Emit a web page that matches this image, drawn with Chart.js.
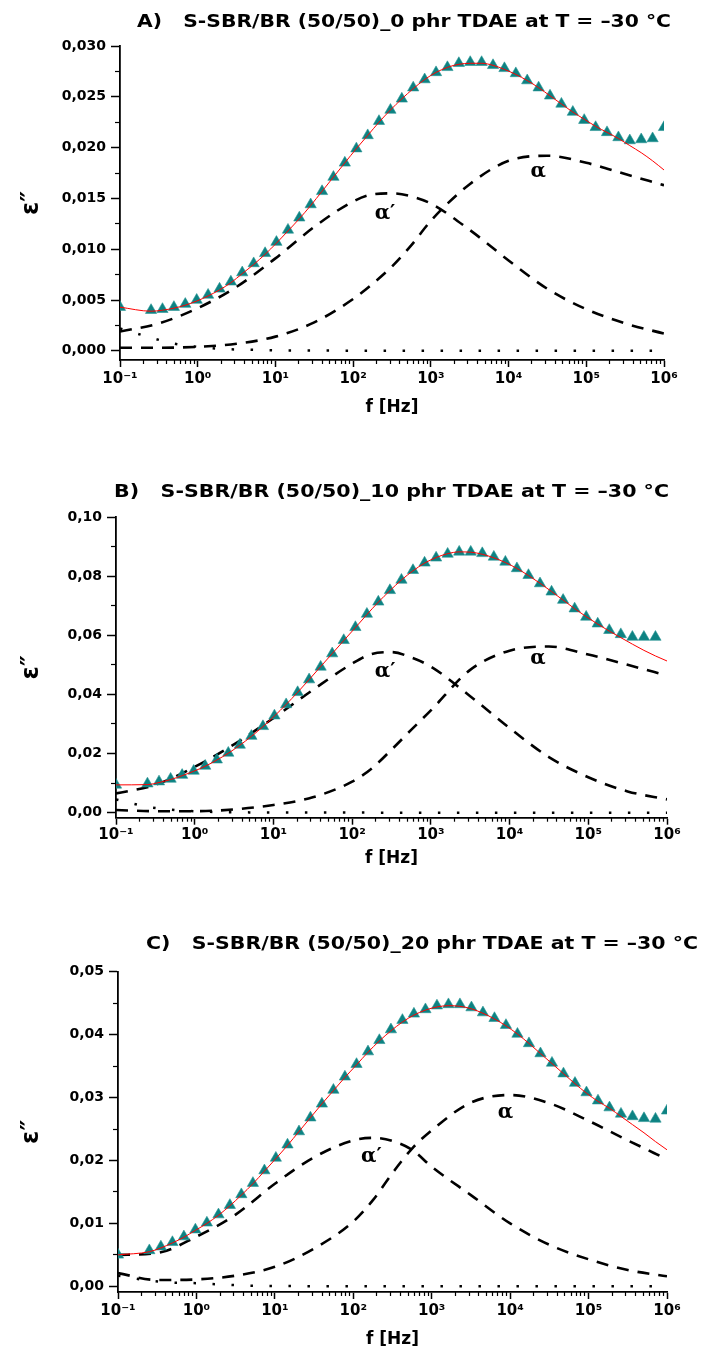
<!DOCTYPE html>
<html>
<head>
<meta charset="utf-8">
<script src="https://cdn.jsdelivr.net/npm/chart.js@4.4.0/dist/chart.umd.min.js"></script>
<style>
  html, body { margin: 0; padding: 0; background: #fff; }
  body { width: 704px; height: 1351px; position: relative; overflow: hidden; }
  canvas { position: absolute; left: 0; }
</style>
</head>
<body>
<canvas id="chartA" width="704" height="430" style="top:0px;width:704px;height:430px"></canvas>
<canvas id="chartB" width="704" height="400" style="top:470px;width:704px;height:400px"></canvas>
<canvas id="chartC" width="704" height="431" style="top:920px;width:704px;height:431px"></canvas>
<script>
// measured frequencies [Hz]
const freq = [0.1, 0.251, 0.352, 0.494, 0.692, 0.970, 1.36, 1.91, 2.67, 3.74, 5.25, 7.36, 10.3, 14.5, 20.3, 28.4, 39.8, 55.8, 78.2, 110, 154, 215, 302, 423, 593, 832, 1166, 1634, 2291, 3211, 4500, 6310, 8845, 12397, 17378, 24360, 34145, 47863, 67092, 94044, 131826, 184785, 259020, 363078, 508940, 713404, 1000000];
// frequencies of the fitted relaxation components
const compFreq = [0.1, 0.316, 1, 3.16, 10, 31.6, 100, 178, 316, 562, 1000, 3160, 10000, 31600, 100000, 316000, 1000000];
const condFreq = [0.1, 0.25, 0.5, 1, 2, 5, 10, 100, 1000, 10000, 100000, 1000000];

// A) 0 phr TDAE
const epsA = [0.0043, 0.0040, 0.0041, 0.0043, 0.0046, 0.0050, 0.0055, 0.0061, 0.0068, 0.0077, 0.0086, 0.0096, 0.0107, 0.0119, 0.0131, 0.0144, 0.0157, 0.0171, 0.0185, 0.0199, 0.0212, 0.0226, 0.0237, 0.0248, 0.0259, 0.0267, 0.0274, 0.0279, 0.0283, 0.0284, 0.0284, 0.0281, 0.0278, 0.0273, 0.0266, 0.0259, 0.0251, 0.0243, 0.0235, 0.0227, 0.0220, 0.0215, 0.0210, 0.0207, 0.0208, 0.0209, 0.0220];
const fitA = [0.0043, 0.0039, 0.0040, 0.0042, 0.0045, 0.0049, 0.0054, 0.0060, 0.0067, 0.0076, 0.0085, 0.0095, 0.0106, 0.0118, 0.0130, 0.0143, 0.0157, 0.0171, 0.0185, 0.0199, 0.0212, 0.0225, 0.0237, 0.0248, 0.0258, 0.0267, 0.0274, 0.0279, 0.0282, 0.0283, 0.0283, 0.0281, 0.0277, 0.0272, 0.0266, 0.0259, 0.0251, 0.0243, 0.0235, 0.0228, 0.0221, 0.0215, 0.0209, 0.0202, 0.0195, 0.0187, 0.0178];
const alphaPrimeA = [0.0019, 0.0027, 0.0042, 0.0063, 0.0091, 0.0122, 0.0147, 0.0154, 0.0155, 0.0152, 0.0145, 0.0119, 0.0089, 0.0061, 0.0041, 0.0027, 0.0017];
const alphaA = [0.0003, 0.0003, 0.0004, 0.0007, 0.0014, 0.0028, 0.0051, 0.0066, 0.0083, 0.0104, 0.0128, 0.0164, 0.0187, 0.0192, 0.0185, 0.0174, 0.0163];
const condA = [0.0022, 0.0013, 0.0007, 0.0004, 0.0002, 0.0001, 0.00005, 0.00002, 0.00001, 0, 0, 0];

// B) 10 phr TDAE
const epsB = [0.0094, 0.0098, 0.0105, 0.0114, 0.0127, 0.0141, 0.0158, 0.0179, 0.0202, 0.0229, 0.0259, 0.0292, 0.0328, 0.0366, 0.0407, 0.0450, 0.0493, 0.0538, 0.0583, 0.0627, 0.0672, 0.0713, 0.0752, 0.0787, 0.0820, 0.0845, 0.0862, 0.0875, 0.0882, 0.0882, 0.0877, 0.0865, 0.0848, 0.0826, 0.0803, 0.0775, 0.0747, 0.0719, 0.0690, 0.0662, 0.0639, 0.0617, 0.0603, 0.0594, 0.0594, 0.0594, null];
const fitB = [0.0094, 0.0095, 0.0102, 0.0112, 0.0125, 0.0140, 0.0157, 0.0178, 0.0201, 0.0228, 0.0258, 0.0291, 0.0327, 0.0366, 0.0407, 0.0450, 0.0494, 0.0538, 0.0582, 0.0626, 0.0670, 0.0712, 0.0751, 0.0787, 0.0818, 0.0844, 0.0863, 0.0876, 0.0882, 0.0881, 0.0874, 0.0862, 0.0846, 0.0826, 0.0802, 0.0776, 0.0748, 0.0719, 0.0690, 0.0663, 0.0638, 0.0614, 0.0592, 0.0570, 0.0549, 0.0530, 0.0513];
const alphaPrimeB = [0.0065, 0.0094, 0.0155, 0.0231, 0.0320, 0.0415, 0.0504, 0.0537, 0.0543, 0.0525, 0.0494, 0.0394, 0.0286, 0.0188, 0.0120, 0.0072, 0.0045];
const alphaB = [0.0009, 0.0005, 0.0005, 0.0011, 0.0026, 0.0052, 0.0105, 0.0150, 0.0213, 0.0280, 0.0346, 0.0483, 0.0548, 0.0562, 0.0535, 0.0500, 0.0464];
const condB = [0.0045, 0.0020, 0.0010, 0.0005, 0.0002, 0.0001, 0.00005, 0.00002, 0.00001, 0, 0, 0];

// C) 20 phr TDAE
const epsC = [0.0050, 0.0057, 0.0063, 0.0070, 0.0079, 0.0090, 0.0101, 0.0114, 0.0129, 0.0146, 0.0164, 0.0184, 0.0204, 0.0225, 0.0246, 0.0268, 0.0290, 0.0312, 0.0333, 0.0353, 0.0373, 0.0391, 0.0408, 0.0423, 0.0433, 0.0440, 0.0446, 0.0448, 0.0448, 0.0443, 0.0435, 0.0426, 0.0415, 0.0401, 0.0386, 0.0370, 0.0355, 0.0338, 0.0323, 0.0308, 0.0295, 0.0284, 0.0274, 0.0270, 0.0267, 0.0266, 0.0279];
const fitC = [0.0050, 0.0055, 0.0061, 0.0069, 0.0078, 0.0089, 0.0100, 0.0113, 0.0128, 0.0145, 0.0163, 0.0183, 0.0203, 0.0224, 0.0246, 0.0268, 0.0290, 0.0311, 0.0332, 0.0352, 0.0372, 0.0390, 0.0406, 0.0420, 0.0431, 0.0439, 0.0444, 0.0446, 0.0445, 0.0441, 0.0434, 0.0425, 0.0414, 0.0401, 0.0386, 0.0370, 0.0354, 0.0338, 0.0322, 0.0307, 0.0294, 0.0283, 0.0270, 0.0257, 0.0244, 0.0230, 0.0217];
const alphaPrimeC = [0.0050, 0.0053, 0.0079, 0.0114, 0.0163, 0.0205, 0.0232, 0.0236, 0.0231, 0.0217, 0.0190, 0.0145, 0.0100, 0.0066, 0.0043, 0.0026, 0.0016];
const alphaC = [0.0021, 0.0010, 0.0011, 0.0017, 0.0031, 0.0060, 0.0103, 0.0137, 0.0180, 0.0219, 0.0248, 0.0292, 0.0304, 0.0291, 0.0263, 0.0232, 0.0202];
const condC = [0.0017, 0.0009, 0.0006, 0.0005, 0.0003, 0.0001, 0.00005, 0.00002, 0.00001, 0, 0, 0];

// axis ticks
const xDecades = [0.1, 1, 10, 100, 1000, 10000, 100000, 1000000];
const xTickLabels = ['10\u207B\u00B9', '10\u2070', '10\u00B9', '10\u00B2', '10\u00B3', '10\u2074', '10\u2075', '10\u2076'];
const yTicksA = [0, 0.005, 0.010, 0.015, 0.020, 0.025, 0.030];
const yLabelsA = ['0,000', '0,005', '0,010', '0,015', '0,020', '0,025', '0,030'];
const yTicksB = [0, 0.02, 0.04, 0.06, 0.08, 0.10];
const yLabelsB = ['0,00', '0,02', '0,04', '0,06', '0,08', '0,10'];
const yTicksC = [0, 0.01, 0.02, 0.03, 0.04, 0.05];
const yLabelsC = ['0,00', '0,01', '0,02', '0,03', '0,04', '0,05'];

const TEAL = '#0d8282';
const FONT = '"DejaVu Sans", "Liberation Sans", Arial, sans-serif';

const minorX = [];
for (let e = -1; e < 6; e++) {
  for (let m = 2; m < 10; m++) minorX.push(m * Math.pow(10, e));
}

function pts(xs, ys) {
  const out = [];
  xs.forEach((x, i) => { if (ys[i] !== null) out.push({ x: x, y: ys[i] }); });
  return out;
}

// title and the alpha / alpha' marks
const notes = {
  id: 'notes',
  afterDraw(chart, args, o) {
    const ctx = chart.ctx;
    const xs = chart.scales.x, ys = chart.scales.y;
    ctx.save();
    ctx.fillStyle = '#000';
    ctx.textBaseline = 'middle';
    ctx.textAlign = 'left';
    ctx.font = 'bold 17px ' + FONT;
    const w = ctx.measureText(o.title).width;
    ctx.translate(o.titleLeft, o.titleY);
    ctx.scale((o.titleRight - o.titleLeft) / w, 1);
    ctx.fillText(o.title, 0, 0);
    ctx.restore();

    ctx.save();
    ctx.fillStyle = '#000';
    ctx.textAlign = 'center';
    ctx.textBaseline = 'middle';
    ctx.font = 'bold 20px "DejaVu Serif", "Liberation Serif", serif';
    o.marks.forEach(m => ctx.fillText(m.text, xs.getPixelForValue(m.f), ys.getPixelForValue(m.v)));
    ctx.restore();
  }
};

function build(id, c) {
  const line = (data, dash, width) => ({
    data: data, showLine: true, borderColor: '#000', borderWidth: width, borderDash: dash,
    borderCapStyle: 'butt', pointRadius: 0, cubicInterpolationMode: 'monotone',
    xAxisID: 'x', yAxisID: 'y', clip: 0
  });
  return new Chart(document.getElementById(id), {
    type: 'scatter',
    data: {
      datasets: [
        { data: pts(freq, c.fit), showLine: true, borderColor: '#ff0000', borderWidth: 1, pointRadius: 0,
          cubicInterpolationMode: 'monotone', xAxisID: 'x', yAxisID: 'y', clip: 0 },
        { data: pts(freq, c.eps), showLine: false, pointStyle: 'triangle', pointRadius: 6.5,
          backgroundColor: TEAL, borderColor: '#2a9696', borderWidth: 0.6, xAxisID: 'x', yAxisID: 'y', clip: 0 },
        line(pts(compFreq, c.alphaPrime), [12, 9], 2.6),
        line(pts(compFreq, c.alpha), [12, 9], 2.6),
        line(pts(condFreq, c.cond), [2.5, 16.5], 2.5)
      ]
    },
    plugins: [notes],
    options: {
      responsive: false,
      animation: false,
      events: [],
      layout: { padding: { left: 0, top: c.padTop, right: c.padRight, bottom: 0 } },
      plugins: {
        legend: { display: false },
        tooltip: { enabled: false },
        notes: { title: c.title, titleLeft: c.titleLeft, titleRight: c.titleRight, titleY: c.titleY, marks: c.marks }
      },
      scales: {
        x: {
          type: 'logarithmic', position: 'bottom', min: 0.1, max: 1000000, weight: 1,
          afterBuildTicks: s => { s.ticks = xDecades.map(v => ({ value: v })); },
          afterFit: s => { s.height = c.xH; },
          ticks: { autoSkip: false, maxRotation: 0, padding: c.xTickPad, color: '#000',
                   font: { family: FONT, size: 15, weight: 'bold' },
                   callback: (v, i) => xTickLabels[i] },
          grid: { drawOnChartArea: false, drawTicks: true, tickLength: 7, tickWidth: 1.5, tickColor: '#000' },
          border: { display: true, color: '#000', width: 1.8 },
          title: { display: true, text: 'f [Hz]', color: '#000', padding: { top: 0, bottom: c.xTitlePad },
                   font: { family: FONT, size: 17, weight: 'bold' } }
        },
        xm: {
          type: 'logarithmic', position: 'bottom', min: 0.1, max: 1000000, weight: 0,
          afterBuildTicks: s => { s.ticks = minorX.map(v => ({ value: v })); },
          afterFit: s => { s.height = 0; },
          ticks: { display: false, autoSkip: false },
          grid: { drawOnChartArea: false, drawTicks: true, tickLength: 4, tickWidth: 1.2, tickColor: '#000' },
          border: { display: false }
        },
        y: {
          type: 'linear', position: 'left', min: c.yMin, max: c.yMax, weight: 1,
          afterBuildTicks: s => { s.ticks = c.yTicks.map(v => ({ value: v })); },
          afterFit: s => { s.width = c.yW; },
          ticks: { padding: 5, color: '#000', font: { family: FONT, size: 14, weight: 'bold' },
                   callback: (v, i) => c.yLabels[i] },
          grid: { drawOnChartArea: false, drawTicks: true, tickLength: 9, tickWidth: 1.5, tickColor: '#000' },
          border: { display: true, color: '#000', width: 1.8 },
          title: { display: true, text: '\u03B5\u2033', color: '#000', padding: { top: 17, bottom: 0 },
                   font: { family: FONT, size: 24, weight: 'bold' } }
        },
        ym: {
          type: 'linear', position: 'left', min: c.yMin, max: c.yMax, weight: 0,
          afterBuildTicks: s => { s.ticks = c.yMinor.map(v => ({ value: v })); },
          afterFit: s => { s.width = 0; },
          ticks: { display: false },
          grid: { drawOnChartArea: false, drawTicks: true, tickLength: 5, tickWidth: 1.2, tickColor: '#000' },
          border: { display: false }
        }
      }
    }
  });
}

build('chartA', {
  eps: epsA, fit: fitA, alphaPrime: alphaPrimeA, alpha: alphaA, cond: condA,
  yMin: -0.0009, yMax: 0.030, yTicks: yTicksA, yLabels: yLabelsA,
  yMinor: [0.0025, 0.0075, 0.0125, 0.0175, 0.0225, 0.0275],
  padTop: 46, padRight: 40, yW: 120, xH: 70, xTickPad: 3, xTitlePad: 11.8,
  title: 'A)   S-SBR/BR (50/50)_0 phr TDAE at T = \u201330 \u00B0C', titleLeft: 137, titleRight: 671, titleY: 22.5,
  marks: [{ text: '\u03B1\u2032', f: 257, v: 0.0135 }, { text: '\u03B1', f: 24000, v: 0.0176 }]
});

build('chartB', {
  eps: epsB, fit: fitB, alphaPrime: alphaPrimeB, alpha: alphaB, cond: condB,
  yMin: -0.0017, yMax: 0.10, yTicks: yTicksB, yLabels: yLabelsB,
  yMinor: [0.01, 0.03, 0.05, 0.07, 0.09],
  padTop: 47, padRight: 37, yW: 116, xH: 52.3, xTickPad: 1, xTitlePad: 0.8,
  title: 'B)   S-SBR/BR (50/50)_10 phr TDAE at T = \u201330 \u00B0C', titleLeft: 114, titleRight: 669, titleY: 23,
  marks: [{ text: '\u03B1\u2032', f: 263, v: 0.0478 }, { text: '\u03B1', f: 22900, v: 0.0519 }]
});

build('chartC', {
  eps: epsC, fit: fitC, alphaPrime: alphaPrimeC, alpha: alphaC, cond: condC,
  yMin: -0.0009, yMax: 0.05, yTicks: yTicksC, yLabels: yLabelsC,
  yMinor: [0.005, 0.015, 0.025, 0.035, 0.045],
  padTop: 51.7, padRight: 37, yW: 118, xH: 59, xTickPad: 3, xTitlePad: 0.8,
  title: 'C)   S-SBR/BR (50/50)_20 phr TDAE at T = \u201330 \u00B0C', titleLeft: 146, titleRight: 698, titleY: 25,
  marks: [{ text: '\u03B1\u2032', f: 170, v: 0.0206 }, { text: '\u03B1', f: 8700, v: 0.0276 }]
});
</script>
</body>
</html>
